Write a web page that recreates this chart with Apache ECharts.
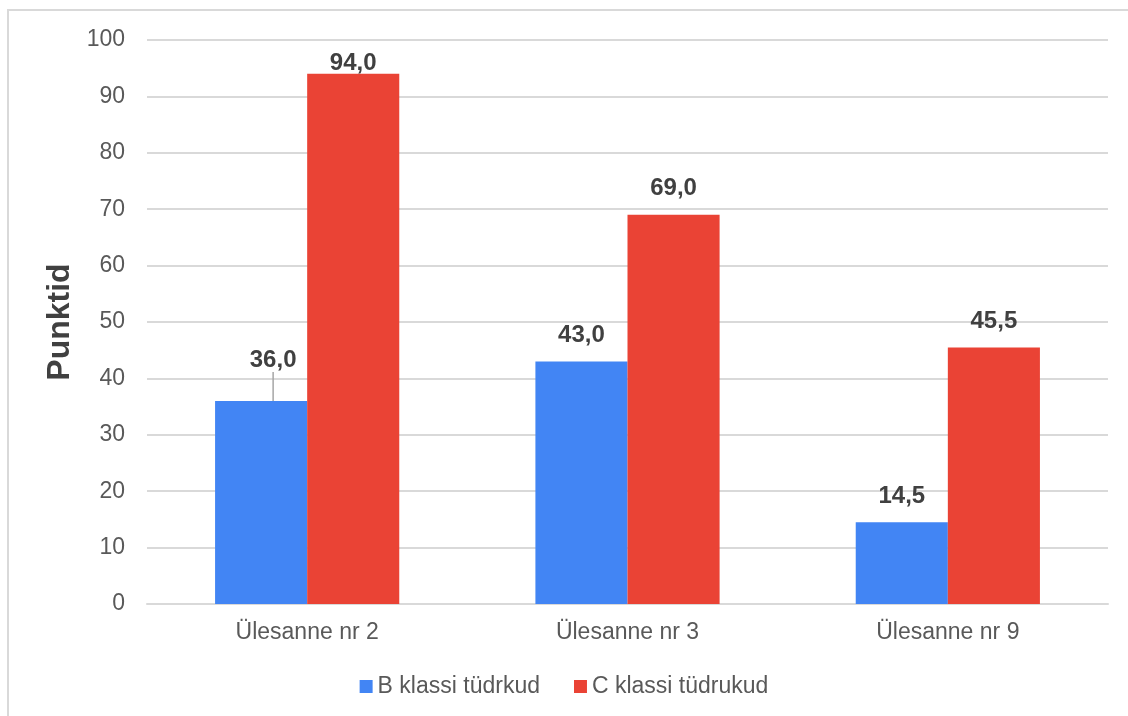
<!DOCTYPE html>
<html>
<head>
<meta charset="utf-8">
<script src="https://cdn.jsdelivr.net/npm/echarts@6/dist/echarts.min.js"></script>
<style>
  html, body { margin: 0; padding: 0; background: #fff; }
  #chart { width: 1128px; height: 716px; }
</style>
</head>
<body>
<div id="chart"></div>
<script>
const categories = ['Ülesanne nr 2', 'Ülesanne nr 3', 'Ülesanne nr 9'];
const seriesNames = ['B klassi tüdrkud', 'C klassi tüdrukud'];
const bValues = [36.0, 43.0, 14.5];
const cValues = [94.0, 69.0, 45.5];
const colors = ['#4285F4', '#EA4335'];

const chart = echarts.init(document.getElementById('chart'));

const fmt = p => p.value.toFixed(1).replace('.', ',');
const labelStyle = {
  show: true,
  position: 'top',
  distance: 14,
  formatter: fmt,
  fontFamily: 'Liberation Sans',
  fontSize: 24,
  fontWeight: 'bold',
  color: '#404040'
};

// only the first blue label is pushed aside and gets a leader line
const bData = bValues.map((v, i) => i === 0
  ? { value: v, labelLine: { show: true, lineStyle: { color: '#a6a6a6', width: 1.5 } } }
  : { value: v });

chart.setOption({
  animation: false,
  textStyle: { fontFamily: 'Liberation Sans' },
  graphic: [{
    type: 'rect',
    shape: { x: 8, y: 10, width: 1200, height: 800 },
    style: { fill: 'none', stroke: '#d9d9d9', lineWidth: 2 },
    z: -1
  }],
  grid: { left: 147, right: 20, top: 40, bottom: 112 },
  legend: {
    top: 670,
    left: 'center',
    itemWidth: 13,
    itemHeight: 13,
    itemGap: 34,
    icon: 'rect',
    textStyle: { fontSize: 23, color: '#595959', fontFamily: 'Liberation Sans' },
    data: seriesNames
  },
  xAxis: {
    type: 'category',
    data: categories,
    axisLine: { lineStyle: { color: '#d9d9d9', width: 2 } },
    axisTick: { show: false },
    axisLabel: { fontSize: 23, color: '#595959', margin: 17 }
  },
  yAxis: {
    type: 'value',
    min: 0,
    max: 100,
    interval: 10,
    name: 'Punktid',
    nameLocation: 'middle',
    nameGap: 68,
    nameTextStyle: { fontSize: 32, fontWeight: 'bold', color: '#404040' },
    axisLine: { show: false },
    axisTick: { show: false },
    axisLabel: { fontSize: 23, color: '#595959', margin: 22 },
    splitLine: { lineStyle: { color: '#d9d9d9', width: 2 } }
  },
  series: [
    {
      name: seriesNames[0],
      type: 'bar',
      data: bData,
      itemStyle: { color: colors[0] },
      barGap: '0%',
      barCategoryGap: '42.5%',
      label: labelStyle,
      labelLine: { show: false },
      labelLayout: p => p.dataIndex === 0 ? { dx: 12, dy: -15 } : {}
    },
    {
      name: seriesNames[1],
      type: 'bar',
      data: cValues,
      itemStyle: { color: colors[1] },
      barGap: '0%',
      barCategoryGap: '42.5%',
      label: labelStyle,
      labelLayout: p => p.dataIndex === 0 ? { dy: 16 } : {}
    }
  ]
});
</script>
</body>
</html>
